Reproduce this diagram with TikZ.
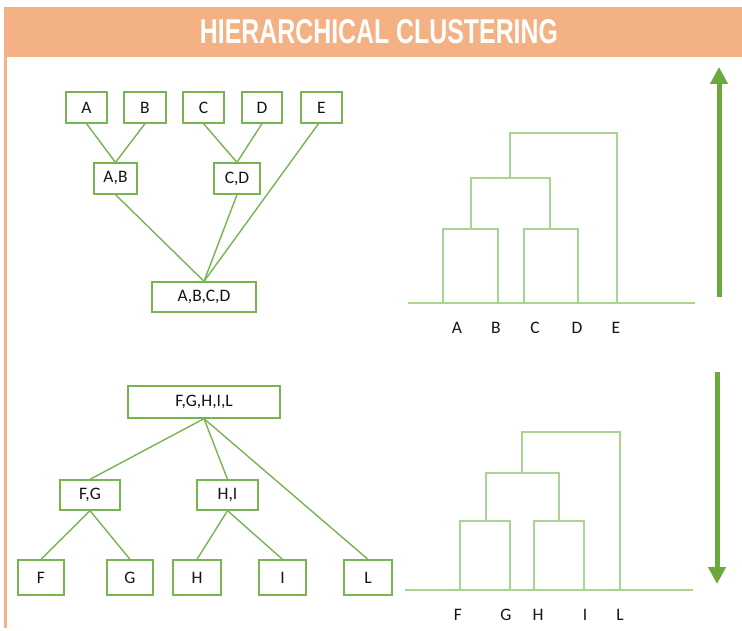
\documentclass[tikz,border=0pt]{standalone}
\usepackage{fontspec}
\usepackage{graphicx}
\setmainfont{Carlito}
\newfontfamily\titlefont{Liberation Sans}
\usetikzlibrary{arrows.meta}
\definecolor{hdr}{RGB}{244,177,131}
\definecolor{treeg}{RGB}{120,180,80}
\definecolor{dendg}{RGB}{170,212,145}
\definecolor{arrg}{RGB}{106,170,60}
\definecolor{txt}{RGB}{20,20,20}
\tikzset{
  tbox/.style={draw=treeg, line width=1.3pt, fill=white, inner sep=0pt, text=txt,
    font=\fontsize{17.5}{17.5}\selectfont},
  tedge/.style={draw=treeg, line width=1.4pt},
  dline/.style={draw=dendg, line width=1.3pt},
  dlab/.style={text=txt, inner sep=0pt, font=\fontsize{17.5}{17.5}\selectfont},
  bigarrow/.style={draw=arrg, line width=5pt, -{Triangle[width=17pt,length=17pt]}},
}
\begin{document}
\begin{tikzpicture}[x=1pt,y=-1pt]
\useasboundingbox (0,0) rectangle (742,631);
\fill[white] (0,0) rectangle (742,631);
% header
\fill[hdr] (4,7) rectangle (742,57);
\node[text=white, inner sep=0pt] (title) at (379,32) {\resizebox{358pt}{24pt}{\titlefont\bfseries HIERARCHICAL CLUSTERING}};
\draw[hdr, line width=2.2pt] (5.5,57) -- (5.5,628);

% top-left tree
\node[tbox, minimum width=41pt, minimum height=31pt] (A) at (86.5,107.5) {A};
\node[tbox, minimum width=42pt, minimum height=31pt] (B) at (145,107.5) {B};
\node[tbox, minimum width=41pt, minimum height=31pt] (C) at (203.5,107.5) {C};
\node[tbox, minimum width=40pt, minimum height=31pt] (D) at (262,107.5) {D};
\node[tbox, minimum width=41pt, minimum height=31pt] (E) at (321.5,107.5) {E};
\node[tbox, minimum width=43pt, minimum height=31pt] (AB) at (115.5,178.5) {A,B};
\node[tbox, minimum width=46pt, minimum height=31pt] (CD) at (237,178.5) {C,D};
\node[tbox, minimum width=104pt, minimum height=30pt] (ABCD) at (204,297) {A,B,C,D};
\draw[tedge] (A.south) -- (AB.north);
\draw[tedge] (B.south) -- (AB.north);
\draw[tedge] (C.south) -- (CD.north);
\draw[tedge] (D.south) -- (CD.north);
\draw[tedge] ([xshift=-3pt]E.south) -- (ABCD.north);
\draw[tedge] (AB.south) -- (ABCD.north);
\draw[tedge] (CD.south) -- (ABCD.north);

% top dendrogram
\draw[dline] (408,303) -- (695,303);
\draw[dline] (443,303) -- (443,229) -- (498,229) -- (498,303);
\draw[dline] (524,303) -- (524,229) -- (578,229) -- (578,303);
\draw[dline] (471,229) -- (471,178) -- (550,178) -- (550,229);
\draw[dline] (510,178) -- (510,133) -- (617,133) -- (617,303);
\node[dlab] (la) at (457,328) {A};
\node[dlab] (lb) at (496,328) {B};
\node[dlab] (lc) at (535,328) {C};
\node[dlab] (ld) at (577,328) {D};
\node[dlab] (le) at (616,328) {E};

% top arrow
\coordinate (ua0) at (719,297);
\coordinate (ua1) at (719,67);
\draw[bigarrow] (ua0) -- (ua1);

% bottom-left tree
\node[tbox, minimum width=152pt, minimum height=32pt] (FGHIL) at (204,402) {F,G,H,I,L};
\node[tbox, minimum width=60pt, minimum height=30pt] (FG) at (90,495) {F,G};
\node[tbox, minimum width=61pt, minimum height=30pt] (HI) at (227.5,495) {H,I};
\node[tbox, minimum width=46pt, minimum height=35pt] (F) at (41,577.5) {F};
\node[tbox, minimum width=46pt, minimum height=35pt] (G) at (130,577.5) {G};
\node[tbox, minimum width=48pt, minimum height=35pt] (H) at (197,577.5) {H};
\node[tbox, minimum width=47pt, minimum height=35pt] (I) at (282.5,577.5) {I};
\node[tbox, minimum width=48pt, minimum height=35pt] (L) at (368,577.5) {L};
\draw[tedge] (FGHIL.south) -- (FG.north);
\draw[tedge] (FGHIL.south) -- (HI.north);
\draw[tedge] (FGHIL.south) -- (L.north);
\draw[tedge] (FG.south) -- (F.north);
\draw[tedge] (FG.south) -- (G.north);
\draw[tedge] (HI.south) -- (H.north);
\draw[tedge] (HI.south) -- (I.north);

% bottom dendrogram
\draw[dline] (405,590) -- (693,590);
\draw[dline] (460,590) -- (460,521) -- (510,521) -- (510,590);
\draw[dline] (534,590) -- (534,521) -- (584,521) -- (584,590);
\draw[dline] (486,521) -- (486,473) -- (559,473) -- (559,521);
\draw[dline] (522,473) -- (522,432) -- (620,432) -- (620,590);
\node[dlab] (lf) at (458,615) {F};
\node[dlab] (lg) at (506,615) {G};
\node[dlab] (lh) at (538,615) {H};
\node[dlab] (li) at (585,615) {I};
\node[dlab] (ll) at (620,615) {L};

% bottom arrow
\coordinate (da0) at (717,372);
\coordinate (da1) at (717,584);
\draw[bigarrow] (da0) -- (da1);
\end{tikzpicture}
\end{document}
